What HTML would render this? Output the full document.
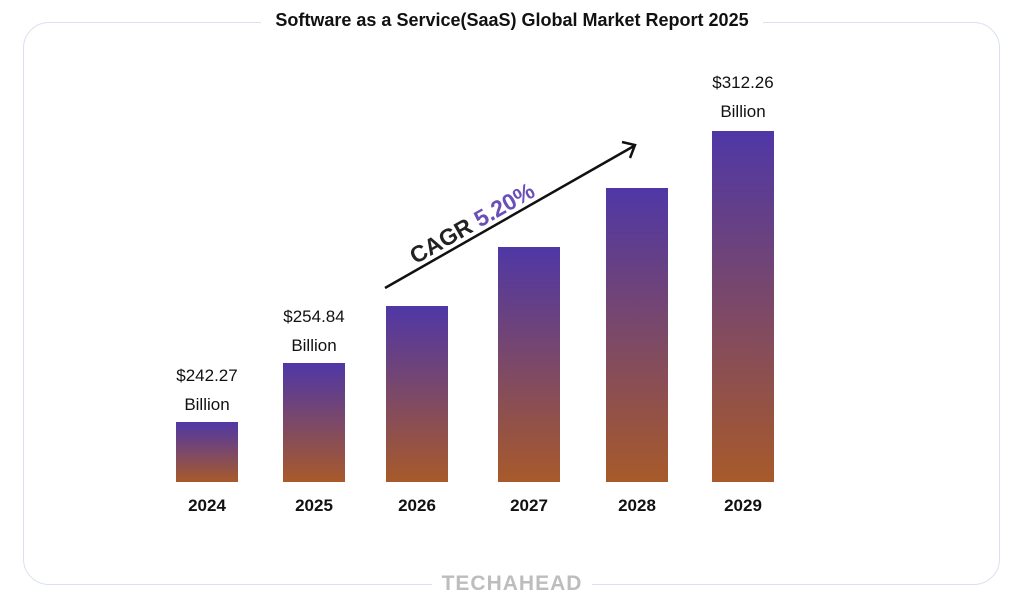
<!DOCTYPE html>
<html><head><style>
body{margin:0;background:#fff;font-family:"Liberation Sans",sans-serif;}
.wrap{position:relative;width:1024px;height:609px;overflow:hidden;}
.box{position:absolute;left:23px;top:22px;width:975px;height:561px;border:1.5px solid #d9e1f0;border-radius:26px;}
.title{position:absolute;top:10px;left:0;width:1024px;text-align:center;font-weight:bold;font-size:18px;color:#111;}
.title span{background:#fff;padding:0 14px;}
.logo{position:absolute;top:572px;left:0;width:1024px;text-align:center;font-weight:bold;font-size:21px;color:#bdbdbd;letter-spacing:1px;}
.logo span{background:#fff;padding:0 10px;}
.bar{position:absolute;width:62px;bottom:127px;background:linear-gradient(#4f37a6,#a85a2a);}
.yr{position:absolute;top:496px;width:80px;text-align:center;font-weight:bold;font-size:17px;color:#111;}
.val{position:absolute;width:120px;text-align:center;font-size:17px;line-height:29px;color:#111;}
</style></head><body><div class="wrap">
<div class="box"></div>
<div class="title"><span>Software as a Service(SaaS) Global Market Report 2025</span></div>
<div class="logo"><span>TECHAHEAD</span></div>
<div class="bar" style="left:176px;top:422px"></div>
<div class="bar" style="left:283px;top:363px"></div>
<div class="bar" style="left:386px;top:306px"></div>
<div class="bar" style="left:498px;top:247px"></div>
<div class="bar" style="left:606px;top:188px"></div>
<div class="bar" style="left:712px;top:131px"></div>
<div class="yr" style="left:167px">2024</div>
<div class="yr" style="left:274px">2025</div>
<div class="yr" style="left:377px">2026</div>
<div class="yr" style="left:489px">2027</div>
<div class="yr" style="left:597px">2028</div>
<div class="yr" style="left:703px">2029</div>
<div class="val" style="left:147px;top:361px">$242.27<br>Billion</div>
<div class="val" style="left:254px;top:302px">$254.84<br>Billion</div>
<div class="val" style="left:683px;top:68px">$312.26<br>Billion</div>
<svg style="position:absolute;left:0;top:0" width="1024" height="609">
<line x1="385" y1="288" x2="634" y2="146" stroke="#111" stroke-width="2.5"/>
<polyline points="622,142 635,145 630,158" fill="none" stroke="#111" stroke-width="2.5"/>
<text x="476" y="230" transform="rotate(-29.7 476 230)" text-anchor="middle" font-family="Liberation Sans" font-weight="bold" font-size="23" fill="#222">CAGR <tspan fill="#6a4fb8">5.20%</tspan></text>
</svg>
</div></body></html>
